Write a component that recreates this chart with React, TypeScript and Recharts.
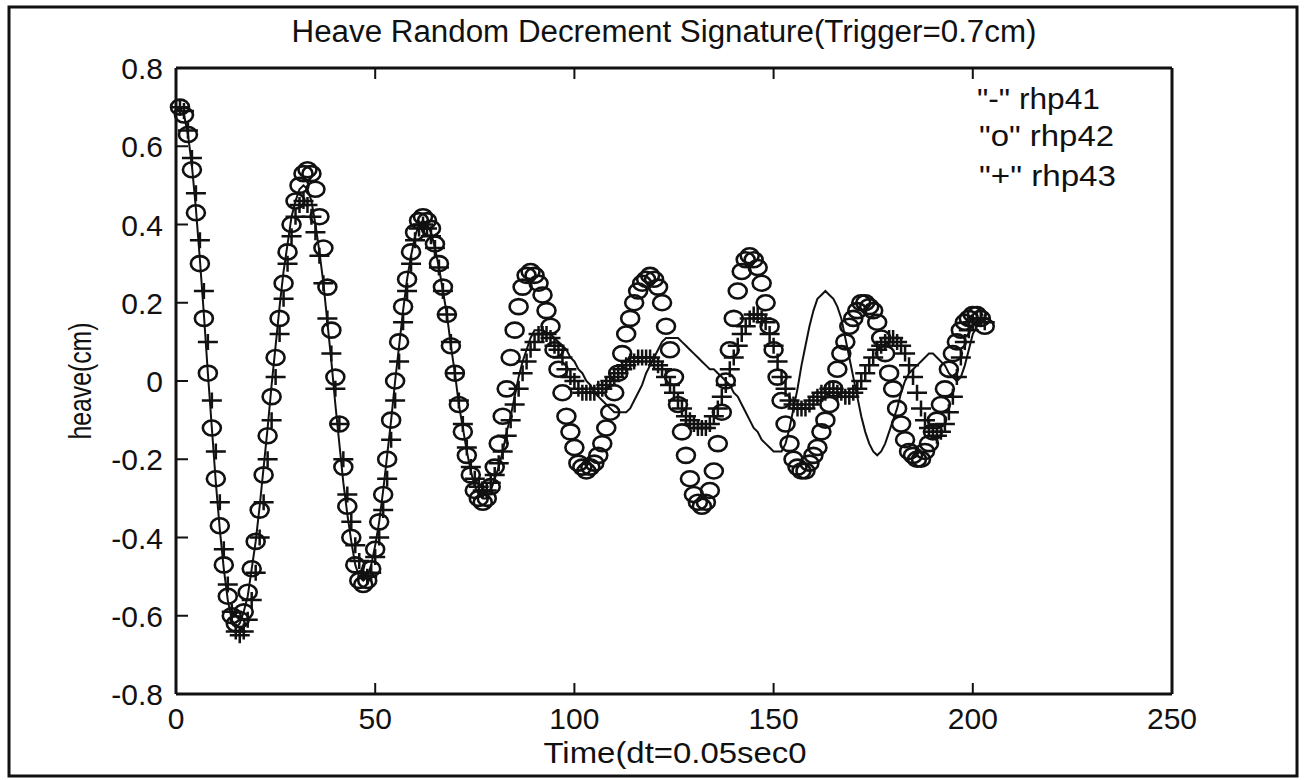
import { LineChart, Line, XAxis, YAxis } from 'recharts'

const FONT = '"Liberation Sans", Arial, Helvetica, sans-serif'
const INK = '#111'

const xTicks = [0, 50, 100, 150, 200, 250]
const yTicks = [-0.8, -0.6, -0.4, -0.2, 0, 0.2, 0.4, 0.6, 0.8]

// time step index (dt = 0.05 s), 1..203
const steps = Array.from({ length: 203 }, (_, i) => i + 1)

// "-" rhp41 (solid line)
const rhp41 = [
  0.70, 0.68, 0.63, 0.55, 0.44, 0.31, 0.17, 0.02, -0.12, -0.26, -0.38, -0.48, -0.56, -0.61, -0.63,
  -0.62, -0.59, -0.55, -0.48, -0.41, -0.32, -0.22, -0.12, -0.01, 0.09, 0.19, 0.28, 0.35, 0.42, 0.46, 0.49, 0.50,
  0.49, 0.46, 0.40, 0.33, 0.25, 0.15, 0.05, -0.06, -0.16, -0.26, -0.34, -0.41, -0.47, -0.50, -0.51,
  -0.50, -0.47, -0.42, -0.36, -0.28, -0.19, -0.10, 0.00, 0.09, 0.18, 0.26, 0.32, 0.37, 0.40, 0.41,
  0.40, 0.38, 0.34, 0.29, 0.23, 0.17, 0.09, 0.02, -0.06, -0.12, -0.18, -0.23, -0.27, -0.29, -0.30,
  -0.30, -0.28, -0.25, -0.22, -0.18, -0.13, -0.09, -0.04, 0.01, 0.05, 0.08, 0.11, 0.13, 0.13,
  0.13, 0.12, 0.12, 0.11, 0.10, 0.09, 0.08, 0.06, 0.05, 0.03, 0.02, 0.00, -0.01, -0.03, -0.04, -0.05, -0.06, -0.07, -0.08, -0.08, -0.08,
  -0.08, -0.07, -0.05, -0.03, -0.01, 0.02, 0.04, 0.06, 0.08, 0.10, 0.11, 0.11,
  0.11, 0.11, 0.10, 0.09, 0.08, 0.07, 0.06, 0.05, 0.04, 0.03, 0.03, 0.02, 0.01, 0.00, -0.01, -0.03, -0.04, -0.06, -0.08, -0.10, -0.12, -0.13, -0.15, -0.16, -0.17, -0.18, -0.18, -0.18,
  -0.16, -0.12, -0.07, -0.02, 0.04, 0.09, 0.14, 0.18, 0.21, 0.22, 0.23, 0.22,
  0.21, 0.19, 0.16, 0.11, 0.06, 0.01, -0.04, -0.09, -0.13, -0.16, -0.18, -0.19, -0.18,
  -0.16, -0.13, -0.10, -0.07, -0.03, 0.00, 0.02, 0.03, 0.04, 0.05, 0.06, 0.07, 0.07, 0.06,
  0.05, 0.04, 0.02, 0.01, 0.00, 0.01, 0.04, 0.08, 0.12, 0.14, 0.15, 0.15,
]

// "o" rhp42 (circles)
const rhp42 = [
  0.70, 0.68, 0.63, 0.54, 0.43, 0.30, 0.16, 0.02, -0.12, -0.25, -0.37, -0.47, -0.55, -0.60, -0.62,
  -0.61, -0.59, -0.54, -0.48, -0.41, -0.33, -0.24, -0.14, -0.04, 0.06, 0.16, 0.25, 0.33, 0.40, 0.46, 0.50, 0.53, 0.54,
  0.53, 0.49, 0.42, 0.34, 0.24, 0.13, 0.01, -0.11, -0.22, -0.32, -0.40, -0.47, -0.51, -0.52,
  -0.51, -0.48, -0.43, -0.36, -0.29, -0.20, -0.10, 0.00, 0.10, 0.19, 0.26, 0.33, 0.38, 0.41, 0.42,
  0.41, 0.39, 0.35, 0.30, 0.24, 0.17, 0.09, 0.02, -0.06, -0.13, -0.19, -0.24, -0.28, -0.30, -0.31,
  -0.30, -0.27, -0.22, -0.16, -0.09, -0.02, 0.06, 0.13, 0.19, 0.24, 0.27, 0.28,
  0.27, 0.25, 0.22, 0.18, 0.14, 0.08, 0.03, -0.03, -0.09, -0.13, -0.17, -0.21, -0.22, -0.23,
  -0.22, -0.21, -0.19, -0.16, -0.12, -0.08, -0.03, 0.02, 0.07, 0.12, 0.16, 0.20, 0.23, 0.25, 0.26, 0.27,
  0.26, 0.24, 0.20, 0.14, 0.08, 0.01, -0.06, -0.13, -0.19, -0.25, -0.29, -0.31, -0.32,
  -0.31, -0.28, -0.23, -0.16, -0.08, 0.00, 0.08, 0.16, 0.23, 0.28, 0.31, 0.32,
  0.31, 0.29, 0.25, 0.20, 0.14, 0.08, 0.01, -0.05, -0.11, -0.16, -0.20, -0.22, -0.23,
  -0.23, -0.21, -0.19, -0.17, -0.13, -0.10, -0.06, -0.02, 0.03, 0.07, 0.10, 0.14, 0.16, 0.18, 0.20, 0.20,
  0.19, 0.18, 0.15, 0.11, 0.07, 0.02, -0.02, -0.07, -0.11, -0.15, -0.18, -0.19, -0.20,
  -0.20, -0.18, -0.16, -0.13, -0.10, -0.06, -0.02, 0.03, 0.07, 0.10, 0.13, 0.15, 0.16, 0.17, 0.17, 0.16, 0.14,
]

// "+" rhp43 (plus signs)
const rhp43 = [
  0.70, 0.69, 0.64, 0.57, 0.48, 0.36, 0.23, 0.10, -0.05, -0.18, -0.31, -0.43, -0.52, -0.59, -0.64, -0.65,
  -0.64, -0.61, -0.56, -0.49, -0.40, -0.31, -0.20, -0.10, 0.01, 0.12, 0.21, 0.30, 0.37, 0.42, 0.45, 0.46,
  0.45, 0.42, 0.38, 0.32, 0.25, 0.16, 0.07, -0.02, -0.11, -0.20, -0.29, -0.36, -0.42, -0.46, -0.49, -0.50,
  -0.49, -0.45, -0.40, -0.33, -0.25, -0.15, -0.05, 0.05, 0.15, 0.23, 0.30, 0.36, 0.39, 0.40,
  0.39, 0.37, 0.34, 0.29, 0.23, 0.17, 0.10, 0.02, -0.05, -0.11, -0.17, -0.22, -0.25, -0.27, -0.28,
  -0.28, -0.26, -0.24, -0.21, -0.18, -0.14, -0.10, -0.06, -0.02, 0.02, 0.05, 0.08, 0.10, 0.12, 0.12,
  0.12, 0.11, 0.09, 0.08, 0.06, 0.03, 0.01, 0.00, -0.02, -0.03, -0.03,
  -0.03, -0.03, -0.02, -0.02, -0.01, 0.00, 0.01, 0.02, 0.03, 0.04, 0.05, 0.05, 0.06, 0.06, 0.06,
  0.06, 0.05, 0.04, 0.03, 0.01, -0.01, -0.03, -0.05, -0.07, -0.09, -0.10, -0.11, -0.12, -0.12,
  -0.12, -0.11, -0.09, -0.07, -0.04, -0.01, 0.03, 0.06, 0.09, 0.12, 0.14, 0.16, 0.17, 0.17,
  0.16, 0.15, 0.12, 0.09, 0.05, 0.01, -0.02, -0.05, -0.06, -0.07,
  -0.07, -0.07, -0.06, -0.05, -0.04, -0.03, -0.03, -0.02, -0.02, -0.03, -0.03, -0.04, -0.04, -0.03, -0.02, 0.00,
  0.02, 0.04, 0.06, 0.08, 0.09, 0.10, 0.11, 0.11,
  0.10, 0.09, 0.07, 0.04, 0.01, -0.03, -0.07, -0.10, -0.12, -0.13, -0.14,
  -0.13, -0.11, -0.08, -0.04, 0.01, 0.06, 0.10, 0.13, 0.15, 0.16, 0.16, 0.15,
]

const legendRows = ['"-" rhp41', '"o" rhp42', '"+" rhp43']

const fmtY = (v: number) => (Math.abs(v) < 1e-9 ? '0' : v.toFixed(1))

// MATLAB-style box: ticks point inward, labels sit outside
// eslint-disable-next-line @typescript-eslint/no-explicit-any
function BottomTick(props: any) {
  const { x, y, payload } = props
  const edge = payload.value === 0 || payload.value === 250
  return (
    <g>
      {!edge && <line x1={x} y1={y} x2={x} y2={y - 11} stroke={INK} strokeWidth={2} />}
      <text x={x} y={y + 35} textAnchor="middle" fontSize={30} fontFamily={FONT} fill={INK}>
        {payload.value}
      </text>
    </g>
  )
}

// eslint-disable-next-line @typescript-eslint/no-explicit-any
function TopTick(props: any) {
  const { x, y, payload } = props
  if (payload.value === 0 || payload.value === 250) return <g />
  return <line x1={x} y1={y} x2={x} y2={y + 11} stroke={INK} strokeWidth={2} />
}

// eslint-disable-next-line @typescript-eslint/no-explicit-any
function LeftTick(props: any) {
  const { x, y, payload } = props
  const edge = Math.abs(Math.abs(payload.value) - 0.8) < 1e-6
  return (
    <g>
      {!edge && <line x1={x} y1={y} x2={x + 12} y2={y} stroke={INK} strokeWidth={2} />}
      <text x={x - 13} y={y + 11} textAnchor="end" fontSize={30} fontFamily={FONT} fill={INK}>
        {fmtY(payload.value)}
      </text>
    </g>
  )
}

// eslint-disable-next-line @typescript-eslint/no-explicit-any
function RightTick(props: any) {
  const { x, y, payload } = props
  if (Math.abs(Math.abs(payload.value) - 0.8) < 1e-6) return <g />
  return <line x1={x} y1={y} x2={x - 12} y2={y} stroke={INK} strokeWidth={2} />
}

// eslint-disable-next-line @typescript-eslint/no-explicit-any
function CircleMark(p: any) {
  if (p.cx == null || p.cy == null) return <g key={`o-${p.index}`} />
  return (
    <ellipse key={`o-${p.index}`} cx={p.cx} cy={p.cy} rx={9} ry={7.5}
      fill="none" stroke={INK} strokeWidth={2.6} />
  )
}

// eslint-disable-next-line @typescript-eslint/no-explicit-any
function PlusMark(p: any) {
  if (p.cx == null || p.cy == null) return <g key={`p-${p.index}`} />
  return (
    <path key={`p-${p.index}`}
      d={`M${p.cx - 10},${p.cy}H${p.cx + 10}M${p.cx},${p.cy - 8}V${p.cy + 8}`}
      stroke={INK} strokeWidth={2.5} fill="none" />
  )
}

export default function App() {
  const data = steps.map((t, i) => ({ t, rhp41: rhp41[i], rhp42: rhp42[i], rhp43: rhp43[i] }))

  return (
    <div style={{ position: 'absolute', left: 0, top: 0, width: 1307, height: 780, background: '#fff' }}>
      <LineChart width={1307} height={780} data={data}
        margin={{ top: 67, right: 134, bottom: 56, left: 116 }}>
        <XAxis xAxisId="b" dataKey="t" type="number" domain={[0, 250]} ticks={xTicks}
          orientation="bottom" height={30} tickSize={0} tickMargin={0} tickLine={false}
          axisLine={{ stroke: INK, strokeWidth: 3 }} tick={<BottomTick />} interval={0} />
        <XAxis xAxisId="t" dataKey="t" type="number" domain={[0, 250]} ticks={xTicks}
          orientation="top" height={1} tickSize={0} tickMargin={0} tickLine={false}
          axisLine={{ stroke: INK, strokeWidth: 3 }} tick={<TopTick />} interval={0} />
        <YAxis yAxisId="l" type="number" domain={[-0.8, 0.8]} ticks={yTicks} width={60}
          tickSize={0} tickMargin={0} tickLine={false} interval={0}
          axisLine={{ stroke: INK, strokeWidth: 3 }} tick={<LeftTick />} />
        <YAxis yAxisId="r" orientation="right" type="number" domain={[-0.8, 0.8]} ticks={yTicks}
          width={1} tickSize={0} tickMargin={0} tickLine={false} interval={0}
          axisLine={{ stroke: INK, strokeWidth: 3 }} tick={<RightTick />} />

        <Line xAxisId="b" yAxisId="l" type="linear" dataKey="rhp41" stroke={INK} strokeWidth={2}
          dot={false} activeDot={false} isAnimationActive={false} />
        <Line xAxisId="b" yAxisId="l" type="linear" dataKey="rhp42" stroke="none"
          dot={CircleMark} activeDot={false} isAnimationActive={false} />
        <Line xAxisId="b" yAxisId="l" type="linear" dataKey="rhp43" stroke="none"
          dot={PlusMark} activeDot={false} isAnimationActive={false} />
      </LineChart>

      <svg width={1307} height={780}
        style={{ position: 'absolute', left: 0, top: 0, pointerEvents: 'none' }}>
        <rect x={9} y={7} width={1288} height={769} fill="none" stroke={INK} strokeWidth={3} />
        <text x={664} y={42} textAnchor="middle" fontSize={31} fontFamily={FONT} fill={INK}
          textLength={745} lengthAdjust="spacingAndGlyphs">
          Heave Random Decrement Signature(Trigger=0.7cm)
        </text>
        <text x={675} y={763} textAnchor="middle" fontSize={30} fontFamily={FONT} fill={INK}
          textLength={263} lengthAdjust="spacingAndGlyphs">
          Time(dt=0.05sec0
        </text>
        <text x={0} y={0} transform="translate(91,381) rotate(-90)" textAnchor="middle"
          fontSize={31} fontFamily={FONT} fill={INK} textLength={117} lengthAdjust="spacingAndGlyphs">
          heave(cm)
        </text>
        {legendRows.map((s, i) => (
          <text key={s} x={i === 0 ? 977 : 979} y={[109, 146, 186][i]} fontSize={30}
            fontFamily={FONT} fill={INK} textLength={[123, 135, 137][i]}
            lengthAdjust="spacingAndGlyphs" style={{ whiteSpace: 'pre' }}>
            {s}
          </text>
        ))}
      </svg>
    </div>
  )
}
